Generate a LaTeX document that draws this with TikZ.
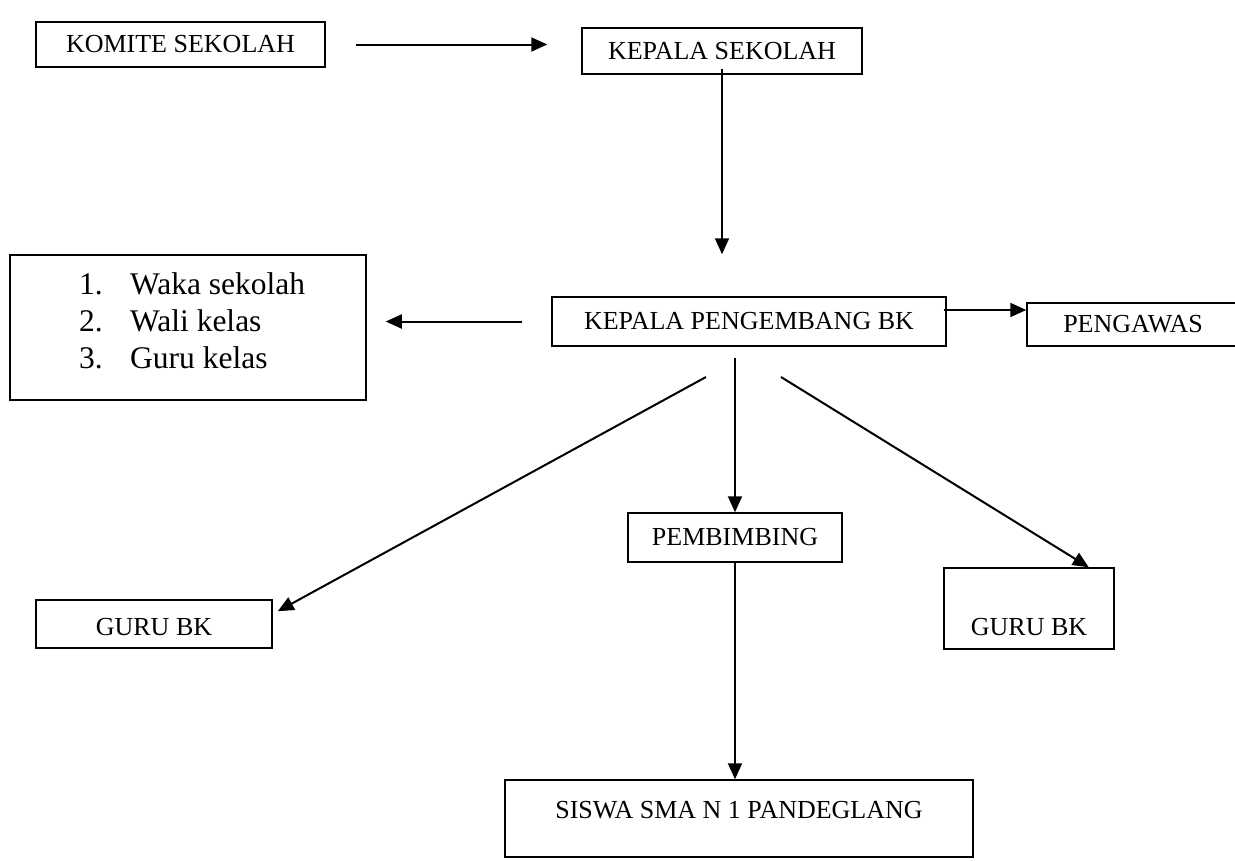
\documentclass[tikz,border=0pt]{standalone}
\usepackage{fontspec}
\setmainfont{Liberation Serif}
\usetikzlibrary{arrows.meta,calc}
\tikzset{
  box/.style={draw, line width=1.5pt, inner sep=0pt, font=\fontsize{26}{31}\selectfont},
  lbl/.style={inner sep=0pt, font=\fontsize{26}{31}\selectfont},
  arr/.style={line width=2pt, -{Triangle[length=16pt,width=14pt]}}
}
\begin{document}
\begin{tikzpicture}[x=1pt,y=-1pt]
\useasboundingbox (0,0) rectangle (1235,860);
% boxes
\node[box, minimum width=289pt, minimum height=45pt] (komite) at (180.5,44.5) {KOMITE SEKOLAH};
\node[box, minimum width=280pt, minimum height=46pt] (kepsek) at (722,51) {KEPALA SEKOLAH};
\node[box, minimum width=356pt, minimum height=145pt] (list) at (188,327.5) {};
\node[inner sep=0pt, anchor=north west, align=left, font=\fontsize{31.5}{37}\selectfont] (listtext) at (79,272)
  {\makebox[51pt][l]{1.}Waka sekolah\\\makebox[51pt][l]{2.}Wali kelas\\\makebox[51pt][l]{3.}Guru kelas};
\node[box, minimum width=394pt, minimum height=49pt] (kpbk) at (749,321.5) {KEPALA PENGEMBANG BK};
\node[box, minimum width=212pt, minimum height=43pt] (pengawas) at (1133,324.5) {PENGAWAS};
\node[box, minimum width=214pt, minimum height=49pt] (pembimbing) at (735,537.5) {PEMBIMBING};
\node[box, minimum width=236pt, minimum height=48pt] (gurul) at (154,624) {};
\node[lbl] (gurultext) at (154,627) {GURU BK};
\node[box, minimum width=170pt, minimum height=81pt] (gurur) at (1029,608.5) {};
\node[lbl] (gururtext) at (1029,627) {GURU BK};
\node[box, minimum width=468pt, minimum height=77pt] (siswa) at (739,818.5) {};
\node[lbl] (siswatext) at (739,810) {SISWA SMA N 1 PANDEGLANG};
% connectors
\coordinate (dl) at (706,377);
\coordinate (dr) at (781,377);
\draw[arr, shorten <=30pt, shorten >=34pt] (komite.east) -- (komite.east -| kepsek.west);
\draw[arr, shorten <=-6pt, shorten >=42pt] (kepsek.south) -- (kepsek.south |- kpbk.north);
\draw[arr, shorten <=29pt, shorten >=19pt] (kpbk.west) -- (kpbk.west -| list.east);
\draw[arr, shorten <=-3pt] ([yshift=11.5pt]kpbk.east) -- ([yshift=11.5pt]kpbk.east -| pengawas.west);
\draw[arr] (dl) -- ([shift={(5pt,-12pt)}]gurul.north east);
\draw[arr, shorten <=11pt] (pembimbing.north |- kpbk.south) -- (pembimbing.north);
\draw[arr] (dr) -- ([xshift=-26pt]gurur.north east);
\draw[arr] (pembimbing.south) -- (pembimbing.south |- siswa.north);
\end{tikzpicture}
\end{document}
